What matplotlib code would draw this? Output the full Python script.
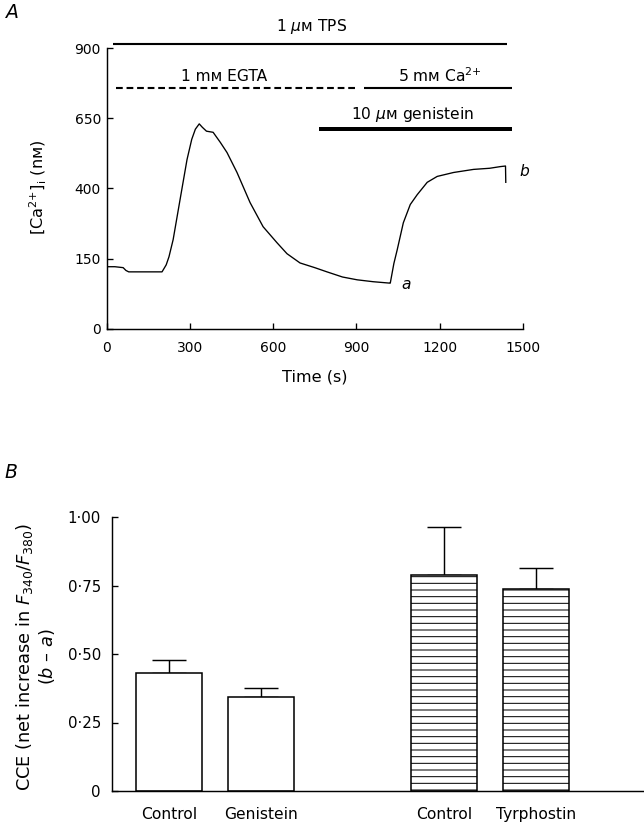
import matplotlib
matplotlib.use('Agg')
import matplotlib.pyplot as plt
import matplotlib.transforms as mtransforms
import numpy as np

plt.rcParams['font.family'] = ['DejaVu Sans']
plt.rcParams['mathtext.fontset'] = 'dejavusans'
plt.rcParams['hatch.linewidth'] = 0.9

# ---- panel A: [Ca2+]i trace ----
time_s = [0, 30, 60, 70, 80, 120, 200, 215, 225, 240, 265, 290, 307, 320, 334, 345,
          360, 384, 410, 434, 470, 517, 564, 614, 650, 697, 750, 794, 850, 903, 960,
          1019, 1022, 1035, 1047, 1069, 1094, 1119, 1155, 1191, 1250, 1322, 1380,
          1419, 1437, 1438]
ca_nM = [133, 133, 131, 125, 122, 122, 122, 137, 157, 218, 361, 503, 575, 611, 630, 618,
         604, 600, 564, 528, 457, 350, 264, 207, 168, 141, 131, 122, 111, 105, 101,
         98, 98, 140, 182, 278, 343, 378, 422, 443, 457, 468, 472,
         478, 480, 422]

y_ticks = [0, 150, 400, 650, 900]
x_ticks = [0, 300, 600, 900, 1200, 1500]

# treatment bars above the trace
treat_labels = [r'1 $\mu$ᴍ TPS', '1 mᴍ EGTA', r'5 mᴍ Ca$^{2{+}}$', r'10 $\mu$ᴍ genistein']
treat_start = [25, 33, 929, 766]
treat_end = [1442, 900, 1460, 1460]

# ---- panel B: CCE bars ----
groups = ['Control', 'Genistein', 'Control', 'Tyrphostin']
cce = [0.43, 0.343, 0.788, 0.737]
cce_err = [0.048, 0.033, 0.175, 0.077]
hatched = [False, False, True, True]
bar_x = [0, 1, 3, 4]


# the y axis of A has equally spaced ticks 0,150,400,650,900
def fwd(v):
    v = np.asarray(v, float)
    return np.where(v < 150, v / 150.0, 1 + (v - 150) / 250.0)


def inv(p):
    p = np.asarray(p, float)
    return np.where(p < 1, p * 150.0, 150 + (p - 1) * 250.0)


fig = plt.figure(figsize=(644 / 80, 829 / 80), dpi=80)

# ================= A =================
axA = fig.add_axes([106.5 / 644, 1 - 329 / 829, 416.5 / 644, 281 / 829])
axA.set_yscale('function', functions=(fwd, inv))
axA.plot(time_s, ca_nM, color='black', lw=1.2)
axA.set_xlim(0, 1500)
axA.set_ylim(0, 900)
axA.set_xticks(x_ticks)
axA.set_yticks(y_ticks)
axA.set_yticklabels([str(v) for v in y_ticks])
axA.minorticks_off()
for s in ['top', 'right']:
    axA.spines[s].set_visible(False)
for s in ['left', 'bottom']:
    axA.spines[s].set_linewidth(1.3)
axA.tick_params(axis='both', direction='in', length=5, width=1.2, labelsize=12.5)
axA.tick_params(axis='x', pad=11)
axA.tick_params(axis='y', pad=5)
axA.set_xlabel('Time (s)', fontsize=14.5, labelpad=13)
axA.set_ylabel('[Ca$^{2{+}}$]$_{\\rm i}$ (nᴍ)', fontsize=14.5)
axA.yaxis.set_label_coords(-0.138, 0.505)

trans = mtransforms.blended_transform_factory(axA.transData, axA.transAxes)
bar_y = [1.014, 0.858, 0.858, 0.712]
bar_lw = [1.9, 1.9, 1.9, 3.6]
bar_ls = ['-', (0, (3.2, 1.8)), '-', '-']
text_x = [737, 424, 1200, 1103]
text_y = [1.075, 0.90, 0.90, 0.762]
for lab, t0, t1, yb, lw, ls, tx, ty in zip(treat_labels, treat_start, treat_end,
                                           bar_y, bar_lw, bar_ls, text_x, text_y):
    axA.plot([t0, t1], [yb, yb], transform=trans, color='black', lw=lw, ls=ls,
             clip_on=False, solid_capstyle='butt')
    axA.text(tx, ty, lab, transform=trans, ha='center', va='center', fontsize=14)

axA.text(1080, 95, 'a', fontsize=14, style='italic', ha='center', va='center')
axA.text(1505, 461, 'b', fontsize=14, style='italic', ha='center', va='center',
         clip_on=False)

fig.text(12 / 644, 1 - 12 / 829, 'A', fontsize=17, style='italic',
         ha='center', va='center')

# ================= B =================
axB = fig.add_axes([112 / 644, 1 - 791 / 829, 532 / 644, 274 / 829])
for x, v, e, h in zip(bar_x, cce, cce_err, hatched):
    axB.bar(x, v, width=0.72, color='white', edgecolor='black', linewidth=1.4,
            hatch='--' if h else None, zorder=2)
    axB.errorbar(x, v, yerr=[[0], [e]], fmt='none', ecolor='black', elinewidth=1.3,
                 capsize=15, capthick=1.3, zorder=1)
axB.set_xlim(-0.621, 5.174)
axB.set_ylim(0, 1.0)
axB.set_yticks([0, 0.25, 0.5, 0.75, 1.0])
axB.set_yticklabels(['0', '0·25', '0·50', '0·75', '1·00'])
axB.set_xticks(bar_x)
axB.set_xticklabels(groups)
for s in ['top', 'right']:
    axB.spines[s].set_visible(False)
for s in ['left', 'bottom']:
    axB.spines[s].set_linewidth(1.3)
axB.tick_params(axis='y', direction='in', length=5, width=1.2, labelsize=13.5, pad=10)
axB.tick_params(axis='x', length=0, labelsize=14, pad=14)
axB.set_ylabel('CCE (net increase in $F_{340}/F_{380}$)\n($b$ – $a$)', fontsize=16,
               linespacing=1.1)
axB.yaxis.set_label_coords(-0.104, 0.49)

fig.text(11 / 644, 1 - 473 / 829, 'B', fontsize=17, style='italic',
         ha='center', va='center')

fig.savefig('out.png', dpi=80)
